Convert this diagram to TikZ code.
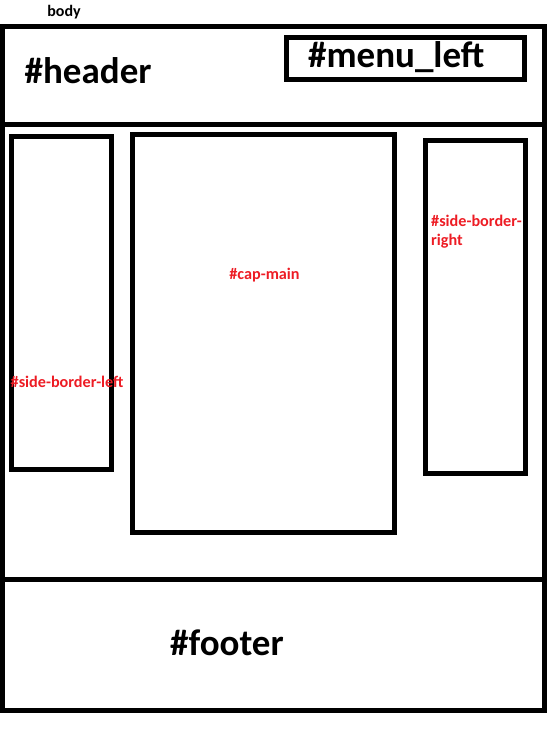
\documentclass[tikz,border=0pt]{standalone}
\usepackage{fontspec}
\setmainfont{Carlito}
\definecolor{LabelRed}{RGB}{237,28,36}
\usetikzlibrary{positioning}

\begin{document}
\begin{tikzpicture}[x=1pt,y=-1pt,
    box/.style={draw=black,line width=5pt,inner sep=0pt,outer sep=0pt},
    bigtag/.style={font=\fontsize{37}{44}\selectfont\bfseries,inner sep=0pt,anchor=base west},
    redtag/.style={font=\fontsize{16.2}{19}\selectfont\bfseries,text=LabelRed,inner sep=0pt}]
  \useasboundingbox (0,0) rectangle (548,754);
  % page frame
  \node[box,minimum width=542pt,minimum height=98pt] (header) at (273.5,75.5) {};
  \node[box,minimum width=238pt,minimum height=42pt] (menu) at (405.5,58.5) {};
  \node[box,minimum width=542pt,minimum height=455pt] (main) at (273.5,352) {};
  \node[box,minimum width=542pt,minimum height=130.5pt] (footer) at (273.5,644.75) {};
  % columns
  \node[box,minimum width=100pt,minimum height=333pt] (sideleft) at (61.5,303) {};
  \node[box,minimum width=262.5pt,minimum height=397.5pt] (capmain) at (263.25,333.75) {};
  \node[box,minimum width=100pt,minimum height=333pt] (sideright) at (475.5,307) {};
  % labels
  \node[font=\fontsize{16}{18}\selectfont\bfseries,inner sep=0pt,anchor=base] (bodytag) at (64,17) {body};
  \node[bigtag] (headertag) at (24.5,84) {\#header};
  \node[bigtag] (menutag) at (308,68) {\#menu\_left};
  \node[bigtag] (footertag) at (170,655) {\#footer};
  \node[redtag,anchor=base] (captag) at (264.5,279) {\#cap-main};
  \node[redtag,anchor=base west,align=left] (righttag) at (431,245) {\#side-border-\\right};
  \node[redtag,anchor=base west] (lefttag) at (10.5,387) {\#side-border-left};
\end{tikzpicture}
\end{document}
